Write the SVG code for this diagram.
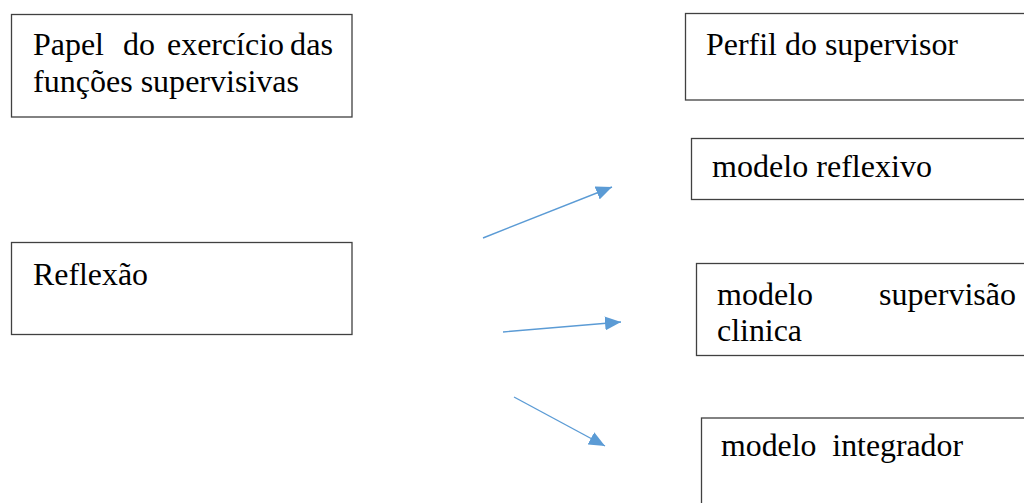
<svg xmlns="http://www.w3.org/2000/svg" width="1024" height="503" viewBox="0 0 1024 503">
<defs>
<style>
.box{fill:#fff;stroke:#404040;stroke-width:1.3}
text{font-family:'Liberation Serif','Times New Roman','DejaVu Serif',serif;font-size:32px;fill:#000}
.c{stroke:#5B9BD5;stroke-width:1.4;fill:none}
</style>
<marker id="ah" markerUnits="userSpaceOnUse" markerWidth="16" markerHeight="14" refX="16" refY="7" orient="auto">
<path d="M0,0 L16,7 L0,14 Z" fill="#5B9BD5"/>
</marker>
</defs>
<rect width="1024" height="503" fill="#fff"/>
<g id="papel">
<rect class="box" x="11.5" y="14.5" width="340.5" height="102.5"/>
<text x="33" y="55" textLength="71" lengthAdjust="spacingAndGlyphs">Papel</text>
<text x="123" y="55" textLength="32" lengthAdjust="spacingAndGlyphs">do</text>
<text x="167" y="55" textLength="117" lengthAdjust="spacingAndGlyphs">exercício</text>
<text x="290" y="55" textLength="43" lengthAdjust="spacingAndGlyphs">das</text>
<text x="33" y="92" textLength="266" lengthAdjust="spacingAndGlyphs">funções supervisivas</text>
</g>
<g id="reflexao">
<rect class="box" x="11.5" y="242.5" width="340.5" height="92"/>
<text x="33" y="285" textLength="115" lengthAdjust="spacingAndGlyphs">Reflexão</text>
</g>
<g id="perfil">
<rect class="box" x="685.5" y="13.5" width="345" height="86.5"/>
<text x="706" y="55" textLength="252" lengthAdjust="spacingAndGlyphs">Perfil do supervisor</text>
</g>
<g id="reflexivo">
<rect class="box" x="691.5" y="138.5" width="340" height="61"/>
<text x="712" y="177" textLength="220" lengthAdjust="spacingAndGlyphs">modelo reflexivo</text>
</g>
<g id="supervisao">
<rect class="box" x="696.5" y="263.5" width="340" height="92"/>
<text x="717" y="305" textLength="96" lengthAdjust="spacingAndGlyphs">modelo</text>
<text x="879" y="305" textLength="137" lengthAdjust="spacingAndGlyphs">supervisão</text>
<text x="717" y="341" textLength="85" lengthAdjust="spacingAndGlyphs">clinica</text>
</g>
<g id="integrador">
<rect class="box" x="701.5" y="418" width="340" height="100"/>
<text x="721" y="456" textLength="242" lengthAdjust="spacingAndGlyphs" xml:space="preserve">modelo  integrador</text>
</g>
<g id="connectors">
<line class="c" x1="483" y1="238" x2="612" y2="187" marker-end="url(#ah)"/>
<line class="c" x1="503" y1="332" x2="621" y2="322" marker-end="url(#ah)"/>
<line class="c" x1="514" y1="397" x2="605" y2="446" marker-end="url(#ah)"/>
</g>
</svg>
